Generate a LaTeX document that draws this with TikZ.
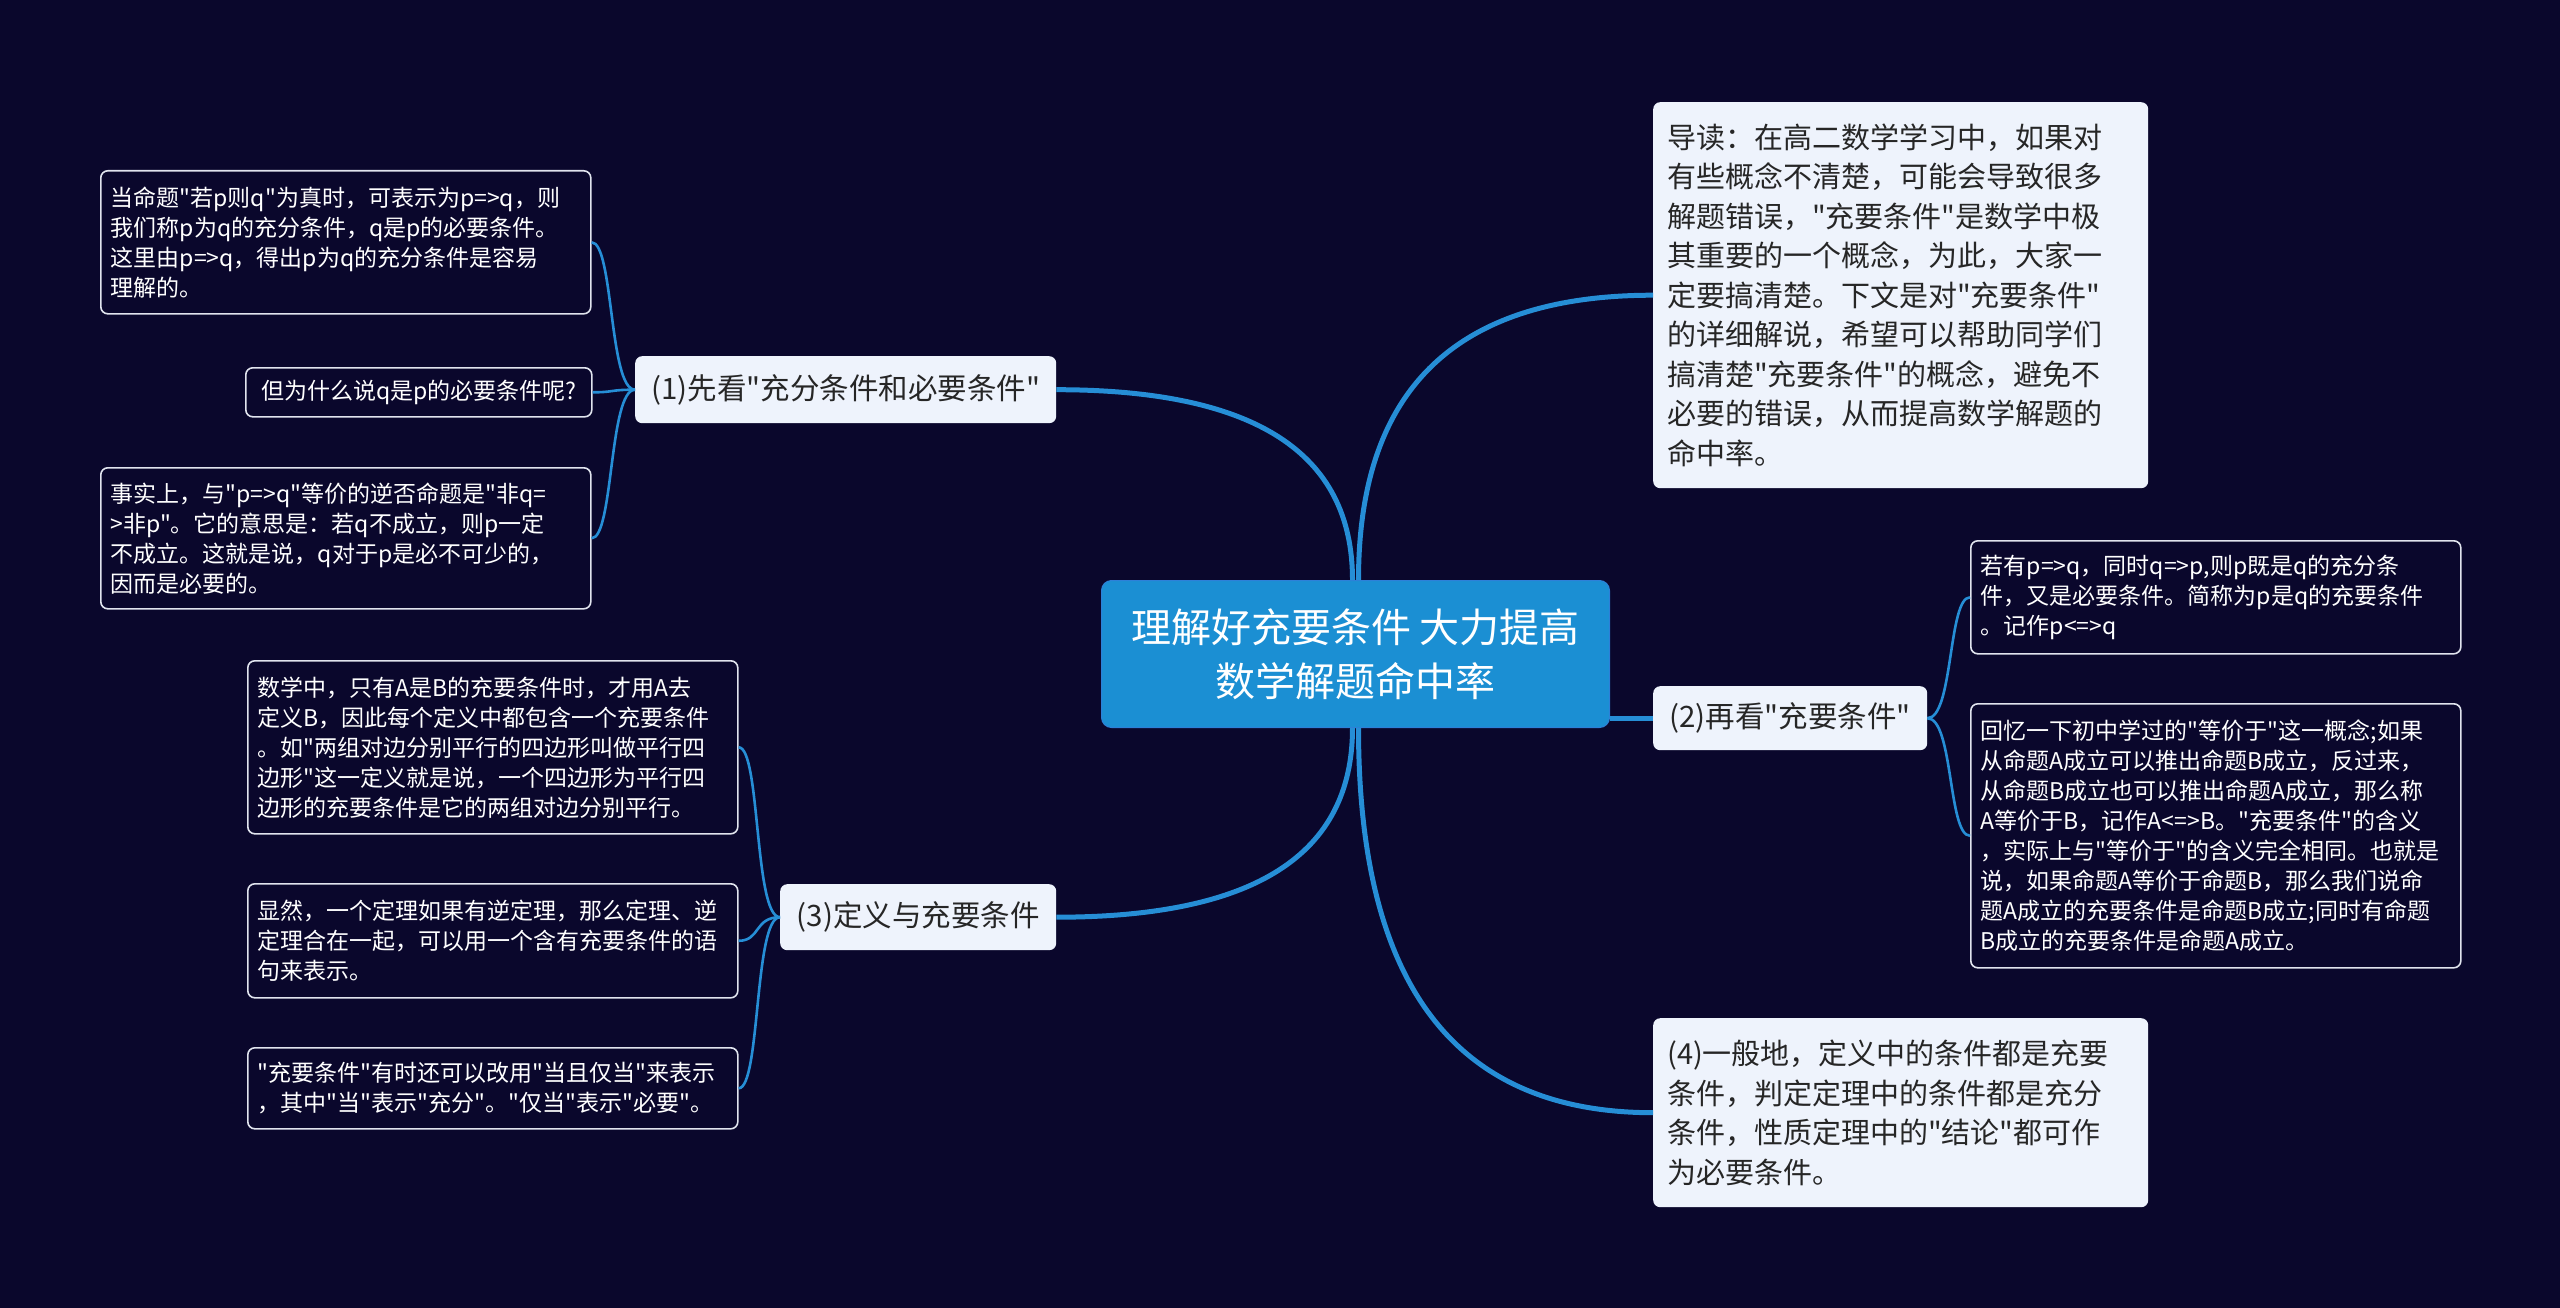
\documentclass[tikz,border=0pt]{standalone}
\usepackage{fontspec}
\newfontfamily\cjk{Noto Sans CJK SC}
\usetikzlibrary{calc}
\definecolor{bg}{RGB}{10,7,44}
\definecolor{linkblue}{RGB}{38,142,214}
\definecolor{centerblue}{RGB}{27,143,211}
\definecolor{centeredge}{RGB}{45,128,216}
\definecolor{lightbox}{RGB}{238,243,252}
\definecolor{leafedge}{RGB}{225,228,238}
\definecolor{darktext}{RGB}{38,38,38}
\begin{document}
\begin{tikzpicture}[x=1pt,y=-1pt,
  leafbox/.style={draw=leafedge, line width=1.6pt, fill=bg, rounded corners=7pt,
    text=white, align=left, anchor=north west, inner xsep=10pt, inner ysep=0pt,
    text width=470pt, minimum width=490pt, font=\cjk\fontsize{23}{30}\selectfont},
  shortleaf/.style={draw=leafedge, line width=1.6pt, fill=bg, rounded corners=7pt,
    text=white, align=center, anchor=north west, inner sep=0pt,
    font=\cjk\fontsize{23}{28}\selectfont},
  topicbox/.style={fill=lightbox, rounded corners=7pt, text=darktext,
    align=center, anchor=north west, inner sep=0pt,
    font=\cjk\fontsize{29.5}{35}\selectfont},
  notebox/.style={fill=lightbox, rounded corners=7pt, text=darktext,
    align=left, anchor=north west, inner xsep=14pt, inner ysep=0pt,
    text width=467pt, minimum width=495pt, font=\cjk\fontsize{29}{39.5}\selectfont},
  rootbox/.style={fill=centerblue, draw=centeredge, line width=1pt, rounded corners=10pt,
    text=white, align=center, anchor=north west, inner sep=0pt,
    font=\cjk\fontsize{40}{54}\selectfont},
  mainlink/.style={draw=linkblue, line width=5pt},
  leaflink/.style={draw=linkblue, line width=2.6pt}
]
\fill[bg] (0,0) rectangle (2560,1308);
\useasboundingbox (0,0) rectangle (2560,1308);

% root
\node[rootbox, minimum width=508pt, minimum height=147pt] (c) at (1101,580)
  {理解好充要条件 大力提高\\数学解题命中率};

% main topics
\node[topicbox, minimum width=421pt, minimum height=67pt] (b1) at (635,356)
  {(1)先看"充分条件和必要条件"};
\node[topicbox, minimum width=274pt, minimum height=64pt] (b2) at (1653,686)
  {(2)再看"充要条件"};
\node[topicbox, minimum width=276pt, minimum height=66pt] (b3) at (780,884)
  {(3)定义与充要条件};
\node[notebox, minimum height=386pt] (r1) at (1653,102)
  {导读：在高二数学学习中，如果对\\有些概念不清楚，可能会导致很多\\解题错误，"充要条件"是数学中极\\其重要的一个概念，为此，大家一\\定要搞清楚。下文是对"充要条件"\\的详细解说，希望可以帮助同学们\\搞清楚"充要条件"的概念，避免不\\必要的错误，从而提高数学解题的\\命中率。};
\node[notebox, minimum height=189pt] (r4) at (1653,1018)
  {(4)一般地，定义中的条件都是充要\\条件，判定定理中的条件都是充分\\条件，性质定理中的"结论"都可作\\为必要条件。};

% leaves of (1)
\node[leafbox, minimum height=143pt] (l1a) at (100,170)
  {当命题"若p则q"为真时，可表示为p=>q，则\\我们称p为q的充分条件，q是p的必要条件。\\这里由p=>q，得出p为q的充分条件是容易\\理解的。};
\node[shortleaf, minimum width=346pt, minimum height=49pt] (l1b) at (245,367)
  {但为什么说q是p的必要条件呢?};
\node[leafbox, minimum height=141pt] (l1c) at (100,467)
  {事实上，与"p=>q"等价的逆否命题是"非q=\\>非p"。它的意思是：若q不成立，则p一定\\不成立。这就是说，q对于p是必不可少的，\\因而是必要的。};

% leaves of (2)
\node[leafbox, minimum height=113pt] (r2a) at (1970,540)
  {若有p=>q，同时q=>p,则p既是q的充分条\\件，又是必要条件。简称为p是q的充要条件\\。记作p<=>q};
\node[leafbox, minimum height=264pt] (r2b) at (1970,703)
  {回忆一下初中学过的"等价于"这一概念;如果\\从命题A成立可以推出命题B成立，反过来，\\从命题B成立也可以推出命题A成立，那么称\\A等价于B，记作A<=>B。"充要条件"的含义\\，实际上与"等价于"的含义完全相同。也就是\\说，如果命题A等价于命题B，那么我们说命\\题A成立的充要条件是命题B成立;同时有命题\\B成立的充要条件是命题A成立。};

% leaves of (3)
\node[leafbox, minimum height=173pt] (l3a) at (247,660)
  {数学中，只有A是B的充要条件时，才用A去\\定义B，因此每个定义中都包含一个充要条件\\。如"两组对边分别平行的四边形叫做平行四\\边形"这一定义就是说，一个四边形为平行四\\边形的充要条件是它的两组对边分别平行。};
\node[leafbox, minimum height=114pt] (l3b) at (247,883)
  {显然，一个定理如果有逆定理，那么定理、逆\\定理合在一起，可以用一个含有充要条件的语\\句来表示。};
\node[leafbox, minimum height=81pt] (l3c) at (247,1047)
  {"充要条件"有时还可以改用"当且仅当"来表示\\，其中"当"表示"充分"。"仅当"表示"必要"。};

% main connectors
\coordinate (ctl) at ([xshift=-3pt]c.north);
\coordinate (ctr) at ([xshift=3pt]c.north);
\coordinate (cbl) at ([xshift=-3pt]c.south);
\coordinate (cbr) at ([xshift=3pt]c.south);
\draw[mainlink] (ctl) .. controls ($(ctl)!0.67!(ctl|-b1.east)$) and ($(b1.east)!0.67!(ctl|-b1.east)$) .. (b1.east);
\draw[mainlink] (ctr) .. controls ($(ctr)!0.67!(ctr|-r1.west)$) and ($(r1.west)!0.67!(ctr|-r1.west)$) .. (r1.west);
\draw[mainlink] (cbl) .. controls ($(cbl)!0.67!(cbl|-b3.east)$) and ($(b3.east)!0.67!(cbl|-b3.east)$) .. (b3.east);
\draw[mainlink] (cbr) .. controls ($(cbr)!0.67!(cbr|-r4.west)$) and ($(r4.west)!0.67!(cbr|-r4.west)$) .. (r4.west);
\draw[mainlink] (c.east|-b2.west) -- (b2.west);

% leaf connectors
\foreach \leaf in {l1a,l1b,l1c}
  \draw[leaflink] (b1.west) .. controls +(-26,0) and +(22,0) .. (\leaf.east);
\foreach \leaf in {l3a,l3b,l3c}
  \draw[leaflink] (b3.west) .. controls +(-26,0) and +(22,0) .. (\leaf.east);
\foreach \leaf in {r2a,r2b}
  \draw[leaflink] (b2.east) .. controls +(26,0) and +(-22,0) .. (\leaf.west);
\end{tikzpicture}
\end{document}
